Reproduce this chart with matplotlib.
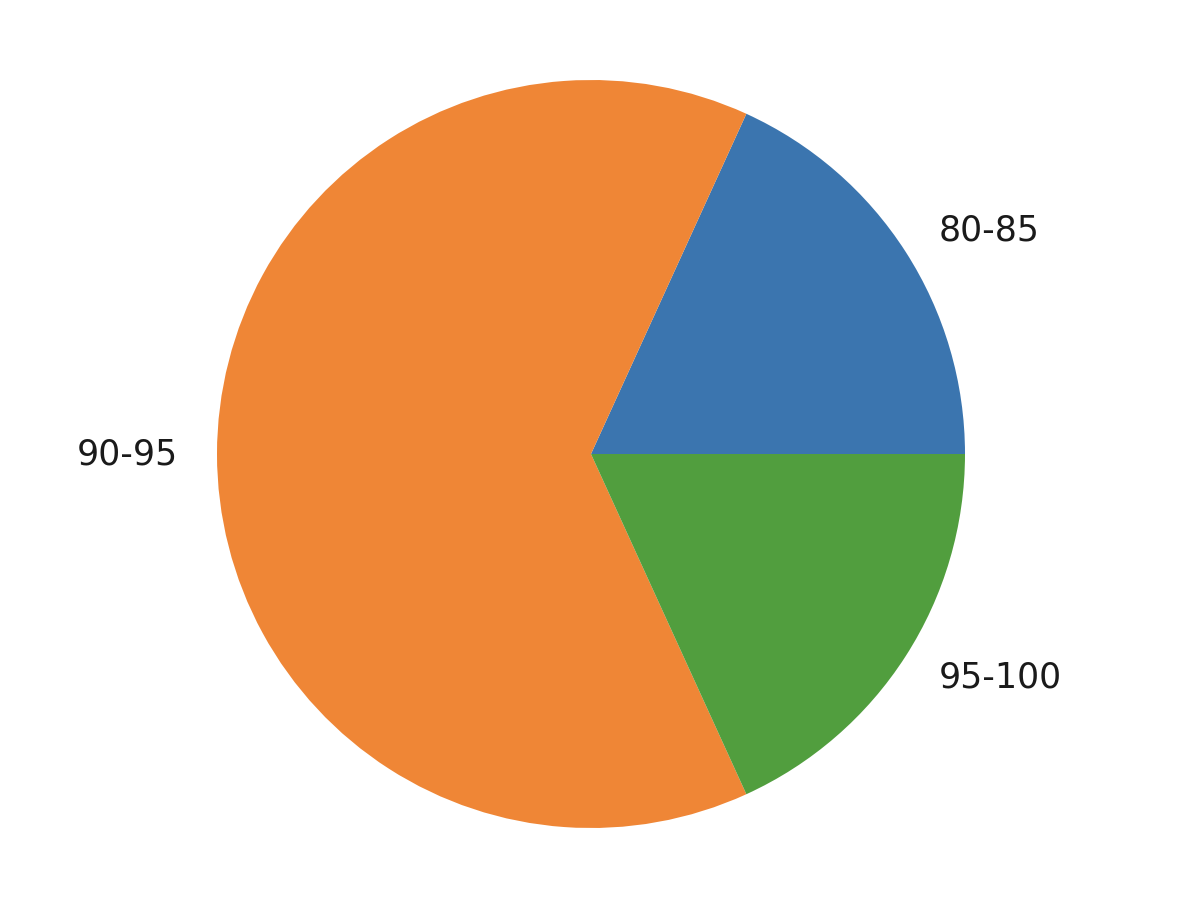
import matplotlib
matplotlib.use("Agg")
import matplotlib.pyplot as plt

labels = ["80-85", "90-95", "95-100"]
values = [2, 7, 2]
colors = ["#3b75af", "#ef8636", "#519e3e"]

W, H = 1193, 923
fig = plt.figure(figsize=(W / 100, H / 100), dpi=100)
ax = fig.add_axes([0, 0, 1, 1])
ax.pie(values, labels=labels, colors=colors, labeldistance=1.105,
       textprops={"fontsize": 25, "color": "#1a1a1a"})

cx, cy, r = 591, 923 - 454, 374
ax.set_aspect("auto")
ax.set_xlim((0 - cx) / r, (W - cx) / r)
ax.set_ylim((0 - cy) / r, (H - cy) / r)
ax.axis("off")
fig.savefig("out.png", dpi=100)
